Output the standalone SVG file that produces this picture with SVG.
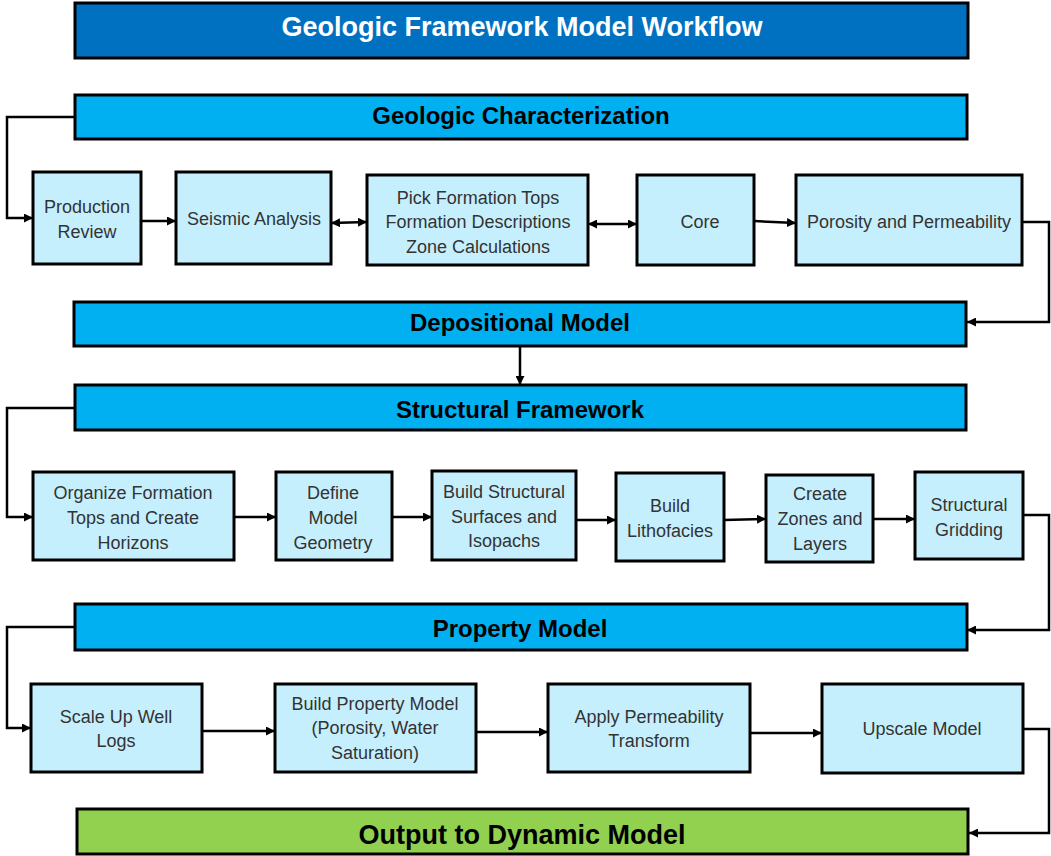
<svg xmlns="http://www.w3.org/2000/svg" width="1051" height="856" viewBox="0 0 1051 856">
<defs>
<marker id="ah" viewBox="0 0 10 10" refX="10" refY="5" markerWidth="9" markerHeight="9" markerUnits="userSpaceOnUse" orient="auto-start-reverse">
<path d="M0,0 L10,5 L0,10 z" fill="#000"/>
</marker>
<style>
.bar{stroke:#000;stroke-width:3}
.title{fill:#0070C0}
.sec{fill:#00B0F0}
.out{fill:#92D050}
.box{fill:#C6EFFD;stroke:#000;stroke-width:3}
.bt{font-family:"Liberation Sans",Arial,sans-serif;font-size:18px;fill:#333;text-anchor:middle}
.st{font-family:"Liberation Sans",Arial,sans-serif;font-size:24px;font-weight:bold;fill:#000;text-anchor:middle}
.tt{font-family:"Liberation Sans",Arial,sans-serif;font-size:27px;font-weight:bold;fill:#fff;text-anchor:middle}
.ot{font-family:"Liberation Sans",Arial,sans-serif;font-size:27px;font-weight:bold;fill:#000;text-anchor:middle}
.c{fill:none;stroke:#000;stroke-width:2.5}
.a{marker-end:url(#ah)}
.d{marker-start:url(#ah);marker-end:url(#ah)}
</style>
</defs>
<rect width="1051" height="856" fill="#fff"/>

<g id="connectors">
<polyline class="c a" points="75,117 7,117 7,218 33,218"/>
<line class="c a" x1="141" y1="221" x2="176" y2="221"/>
<line class="c d" x1="331" y1="223" x2="367" y2="222"/>
<line class="c d" x1="588" y1="224" x2="637" y2="224"/>
<line class="c a" x1="754" y1="221" x2="796" y2="223"/>
<polyline class="c a" points="1022,222 1049,222 1049,322 967,322"/>
<line class="c a" x1="520" y1="346" x2="520" y2="385"/>
<polyline class="c a" points="75,408 7,408 7,517 33,517"/>
<line class="c a" x1="234" y1="517" x2="276" y2="517"/>
<line class="c a" x1="392" y1="517" x2="432" y2="517"/>
<line class="c a" x1="576" y1="520" x2="616" y2="520"/>
<line class="c a" x1="724" y1="520" x2="766" y2="519"/>
<line class="c a" x1="873" y1="519" x2="915" y2="519"/>
<polyline class="c a" points="1023,515 1049,515 1049,630 967,630"/>
<polyline class="c a" points="75,627 7,627 7,728 31,728"/>
<line class="c a" x1="202" y1="731" x2="275" y2="731"/>
<line class="c a" x1="476" y1="732" x2="548" y2="732"/>
<line class="c a" x1="750" y1="733" x2="822" y2="733"/>
<polyline class="c a" points="1023,729 1049,729 1049,833 969,833"/>
</g>

<g id="title">
<rect class="bar title" x="75" y="3" width="893" height="55"/>
<text class="tt" x="522" y="36">Geologic Framework Model Workflow</text>
</g>

<g id="geologic-characterization">
<rect class="bar sec" x="75" y="95" width="892" height="44"/>
<text class="st" x="521" y="124">Geologic Characterization</text>
</g>

<g id="production-review">
<rect class="box" x="33" y="172" width="108" height="92"/>
<text class="bt" x="87" y="213">Production</text>
<text class="bt" x="87" y="238">Review</text>
</g>
<g id="seismic-analysis">
<rect class="box" x="176" y="172" width="155" height="92"/>
<text class="bt" x="254" y="225">Seismic Analysis</text>
</g>
<g id="pick-formation-tops">
<rect class="box" x="367" y="175" width="221" height="90"/>
<text class="bt" x="478" y="204">Pick Formation Tops</text>
<text class="bt" x="478" y="228">Formation Descriptions</text>
<text class="bt" x="478" y="253">Zone Calculations</text>
</g>
<g id="core">
<rect class="box" x="637" y="175" width="117" height="90"/>
<text class="bt" x="700" y="228">Core</text>
</g>
<g id="porosity-permeability">
<rect class="box" x="796" y="175" width="226" height="90"/>
<text class="bt" x="909" y="228">Porosity and Permeability</text>
</g>

<g id="depositional-model">
<rect class="bar sec" x="74" y="302" width="892" height="44"/>
<text class="st" x="520" y="331">Depositional Model</text>
</g>

<g id="structural-framework">
<rect class="bar sec" x="75" y="385" width="891" height="45"/>
<text class="st" x="520" y="418">Structural Framework</text>
</g>

<g id="organize-formation-tops">
<rect class="box" x="33" y="472" width="201" height="88"/>
<text class="bt" x="133" y="499">Organize Formation</text>
<text class="bt" x="133" y="524">Tops and Create</text>
<text class="bt" x="133" y="549">Horizons</text>
</g>
<g id="define-model-geometry">
<rect class="box" x="276" y="472" width="116" height="88"/>
<text class="bt" x="333" y="499">Define</text>
<text class="bt" x="333" y="524">Model</text>
<text class="bt" x="333" y="549">Geometry</text>
</g>
<g id="build-structural-surfaces">
<rect class="box" x="432" y="471" width="144" height="89"/>
<text class="bt" x="504" y="498">Build Structural</text>
<text class="bt" x="504" y="523">Surfaces and</text>
<text class="bt" x="504" y="547">Isopachs</text>
</g>
<g id="build-lithofacies">
<rect class="box" x="616" y="473" width="108" height="88"/>
<text class="bt" x="670" y="512">Build</text>
<text class="bt" x="670" y="537">Lithofacies</text>
</g>
<g id="create-zones-layers">
<rect class="box" x="766" y="475" width="107" height="87"/>
<text class="bt" x="820" y="500">Create</text>
<text class="bt" x="820" y="525">Zones and</text>
<text class="bt" x="820" y="550">Layers</text>
</g>
<g id="structural-gridding">
<rect class="box" x="915" y="472" width="108" height="87"/>
<text class="bt" x="969" y="511">Structural</text>
<text class="bt" x="969" y="536">Gridding</text>
</g>

<g id="property-model">
<rect class="bar sec" x="75" y="604" width="892" height="46"/>
<text class="st" x="520" y="637">Property Model</text>
</g>

<g id="scale-up-well-logs">
<rect class="box" x="31" y="684" width="171" height="88"/>
<text class="bt" x="116" y="723">Scale Up Well</text>
<text class="bt" x="116" y="747">Logs</text>
</g>
<g id="build-property-model">
<rect class="box" x="275" y="684" width="201" height="88"/>
<text class="bt" x="375" y="710">Build Property Model</text>
<text class="bt" x="375" y="734">(Porosity, Water</text>
<text class="bt" x="375" y="759">Saturation)</text>
</g>
<g id="apply-permeability-transform">
<rect class="box" x="548" y="684" width="202" height="88"/>
<text class="bt" x="649" y="723">Apply Permeability</text>
<text class="bt" x="649" y="747">Transform</text>
</g>
<g id="upscale-model">
<rect class="box" x="822" y="684" width="201" height="89"/>
<text class="bt" x="922" y="735">Upscale Model</text>
</g>

<g id="output-dynamic-model">
<rect class="bar out" x="77" y="809" width="891" height="45"/>
<text class="ot" x="522" y="844">Output to Dynamic Model</text>
</g>
</svg>
